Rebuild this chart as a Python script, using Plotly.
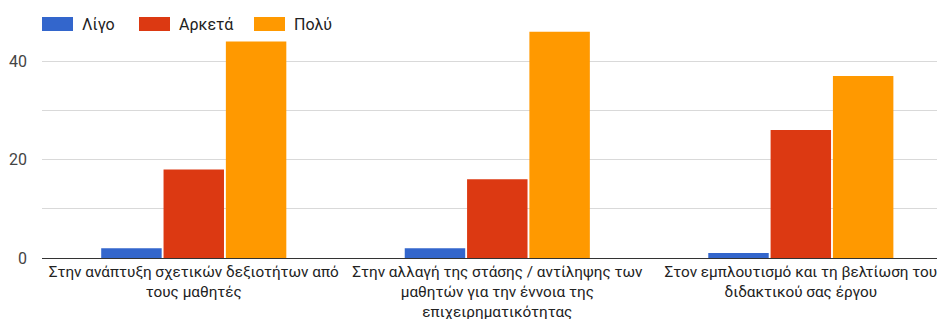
import plotly.graph_objects as go

categories = [
    "Στην ανάπτυξη σχετικών δεξιοτήτων από<br>τους μαθητές",
    "Στην αλλαγή της στάσης / αντίληψης των<br>μαθητών για την έννοια της<br>επιχειρηματικότητας",
    "Στον εμπλουτισμό και τη βελτίωση του<br>διδακτικού σας έργου",
]
series_names = ["Λίγο", "Αρκετά", "Πολύ"]
ligo = [2, 2, 1]
arketa = [18, 16, 26]
poly = [44, 46, 37]
colors = ["#3366cc", "#dc3912", "#ff9900"]

# page is rendered with an 8px body margin, so compensate
OFF = 8
PAGE_W, PAGE_H = 945, 319
W, H = PAGE_W - OFF, PAGE_H - OFF
# plot area in page pixels: x 42..945, y 12..258
L, R, T, B = 42 - OFF, 0, 12 - OFF, PAGE_H - 258
pw, ph = W - L - R, H - T - B

def px2paper(x, y):
    return (x - OFF - L) / pw, (H - B - (y - OFF)) / ph

fig = go.Figure()
for name, vals, c in zip(series_names, [ligo, arketa, poly], colors):
    fig.add_trace(go.Bar(x=categories, y=vals, name=name, marker_color=c,
                         marker_line_width=0))

legend_sym_x = [42, 139, 254]
shapes, annots = [], []
for name, c, sx in zip(series_names, colors, legend_sym_x):
    x0, y0 = px2paper(sx, 31)
    x1, y1 = px2paper(sx + 31, 17)
    shapes.append(dict(type="rect", xref="paper", yref="paper", x0=x0, y0=y0, x1=x1, y1=y1,
                       fillcolor=c, line=dict(width=0), layer="above"))
    tx, ty = px2paper(sx + 38, 24)
    annots.append(dict(xref="paper", yref="paper", x=tx, y=ty, text=name, showarrow=False,
                       xanchor="left", yanchor="middle",
                       font=dict(size=16, color="#222222")))

fig.update_layout(
    width=W, height=H,
    margin=dict(l=L, r=R, t=T, b=B),
    paper_bgcolor="white", plot_bgcolor="white",
    font=dict(family="Roboto, Arial, sans-serif", size=16, color="#222222"),
    barmode="group", bargap=0.384, bargroupgap=0.03,
    showlegend=False,
    shapes=shapes, annotations=annots,
)
fig.update_xaxes(range=[-0.5, 2.475], showgrid=False, ticks="", automargin=False, tickangle=0,
                 tickfont=dict(size=15.3, color="#222222"),
                 showline=True, linecolor="#333333", linewidth=1)
fig.update_yaxes(range=[0, 50], tickvals=[0, 10, 20, 30, 40, 50], ticktext=["0", "", "20", "", "40", ""],
                 gridcolor="#d9d9d9", gridwidth=1, zeroline=False, automargin=False,
                 tickfont=dict(size=16, color="#444444"), ticks="", ticklabelstandoff=14)

fig.write_html("out.html")
